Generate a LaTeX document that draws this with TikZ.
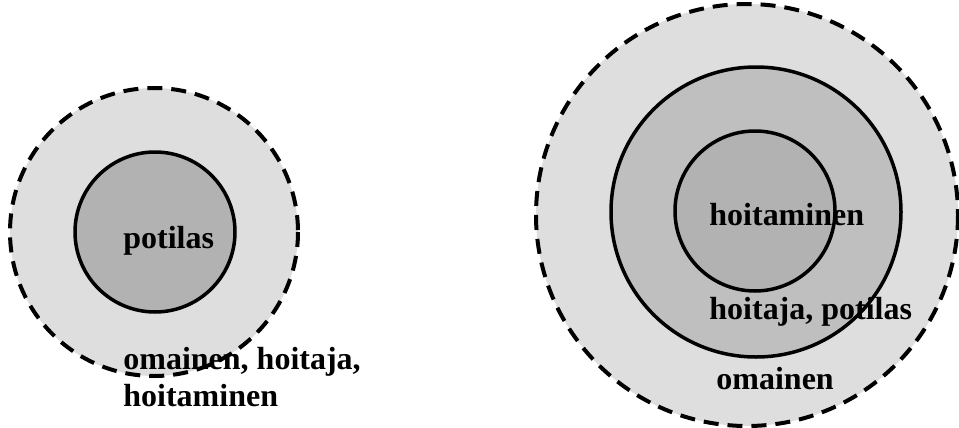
\documentclass[tikz,border=0pt]{standalone}
\usepackage{fontspec}
\setmainfont{Liberation Serif}
\definecolor{ringouter}{gray}{0.87}
\definecolor{ringmid}{gray}{0.75}
\definecolor{ringcore}{gray}{0.70}
\tikzset{
  dashring/.style={line width=2pt, dash pattern=on 7.5pt off 4.5pt},
  solidring/.style={line width=1.75pt},
  ringlabel/.style={anchor=base west, inner sep=0pt, align=left,
    font=\fontsize{16}{18.5}\selectfont\bfseries}
}
\begin{document}
\begin{tikzpicture}[x=0.5pt, y=-0.5pt]
  \useasboundingbox (0,0) rectangle (959,428);
  % fills
  \fill[ringouter] (154,232) circle[radius=144];
  \fill[ringcore] (155,232) circle[radius=80];
  \fill[ringouter] (747,215) circle[radius=211];
  \fill[ringmid] (756,212) circle[radius=145];
  \fill[ringcore] (755,211) circle[radius=80];
  % labels
  \node[ringlabel] (patientL) at (123,248) {potilas};
  \node[ringlabel] (othersL) at (123,406) {omainen, hoitaja,\\hoitaminen};
  \node[ringlabel] (careR) at (709,225) {hoitaminen};
  \node[ringlabel] (nurseR) at (709,319) {hoitaja, potilas};
  \node[ringlabel] (relativeR) at (716,389) {omainen};
  % outlines
  \draw[dashring] (154,232) circle[radius=144];
  \draw[solidring] (155,232) circle[radius=80];
  \draw[dashring] (747,215) circle[radius=211];
  \draw[solidring] (756,212) circle[radius=145];
  \draw[solidring] (755,211) circle[radius=80];
\end{tikzpicture}
\end{document}
